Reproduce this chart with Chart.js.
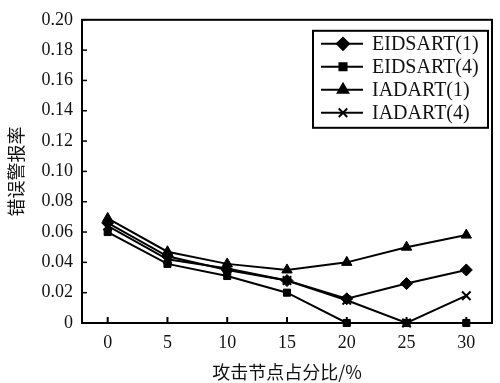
<!DOCTYPE html>
<html>
<head>
<meta charset="utf-8">
<script src="https://cdn.jsdelivr.net/npm/chart.js@4"></script>
<style>
  html, body { margin: 0; padding: 0; background: #fff; }
</style>
</head>
<body>
<canvas id="myChart" width="500" height="383"></canvas>
<script>
// values
const xValues = [0, 5, 10, 15, 20, 25, 30];
const eidsart1 = [0.066, 0.044, 0.035, 0.028, 0.016, 0.026, 0.035];
const eidsart4 = [0.060, 0.039, 0.031, 0.020, 0, 0, 0];
const iadart1 = [0.069, 0.047, 0.039, 0.035, 0.040, 0.050, 0.058];
const iadart4 = [0.064, 0.042, 0.036, 0.028, 0.015, 0, 0.018];
const seriesNames = ['EIDSART(1)', 'EIDSART(4)', 'IADART(1)', 'IADART(4)'];
const markers = ['rectRot', 'rect', 'triangle', 'crossRot'];
const markerSizes = [6, 5, 6, 6];
const yTicks = [0, 0.02, 0.04, 0.06, 0.08, 0.10, 0.12, 0.14, 0.16, 0.18, 0.20];
const xTitle = '攻击节点占分比/%';
const yTitle = '错误警报率';

const serif = "'Liberation Serif', 'Times New Roman', serif";
const cjk = "'Noto Sans CJK SC', sans-serif";

const allSeries = [eidsart1, eidsart4, iadart1, iadart4];
const datasets = allSeries.map((vals, i) => ({
  label: seriesNames[i],
  data: vals.map((v, j) => ({ x: xValues[j], y: v })),
  borderColor: '#000',
  backgroundColor: '#000',
  borderWidth: 2,
  pointStyle: markers[i],
  pointRadius: markerSizes[i],
  pointBorderWidth: markers[i] === 'crossRot' ? 2 : 1,
  pointBackgroundColor: '#000',
  pointBorderColor: '#000',
  tension: 0,
  clip: false,
}));

// frame, inner tick marks and boxed legend
const framePlugin = {
  id: 'frame',
  afterDraw(chart) {
    const ctx = chart.ctx;
    const ca = chart.chartArea;
    const xs = chart.scales.x;
    const ys = chart.scales.y;
    ctx.save();
    ctx.strokeStyle = '#000';
    ctx.lineWidth = 2;
    ctx.strokeRect(ca.left, ca.top, ca.right - ca.left, ca.bottom - ca.top);

    ctx.lineWidth = 1.5;
    yTicks.forEach((t) => {
      const y = ys.getPixelForValue(t);
      ctx.beginPath();
      ctx.moveTo(ca.left, y);
      ctx.lineTo(ca.left + 5, y);
      ctx.stroke();
    });
    ctx.lineWidth = 2;
    xValues.forEach((t) => {
      const x = xs.getPixelForValue(t);
      ctx.beginPath();
      ctx.moveTo(x, ca.bottom);
      ctx.lineTo(x, ca.bottom - 6);
      ctx.stroke();
    });

    // legend box
    const bx = ca.right - 179, by = ca.top + 11, bw = 175, bh = 97;
    ctx.lineWidth = 2;
    ctx.strokeRect(bx, by, bw, bh);
    ctx.font = '20px ' + serif;
    ctx.textBaseline = 'middle';
    ctx.textAlign = 'left';
    chart.data.datasets.forEach((ds, i) => {
      const cy = by + 13 + i * 23;
      ctx.strokeStyle = '#000';
      ctx.lineWidth = 2;
      ctx.beginPath();
      ctx.moveTo(bx + 8, cy);
      ctx.lineTo(bx + 50, cy);
      ctx.stroke();
      ctx.fillStyle = '#000';
      Chart.helpers.drawPoint(ctx, {
        pointStyle: ds.pointStyle,
        radius: ds.pointRadius,
        borderWidth: ds.pointBorderWidth,
      }, bx + 30, cy);
      if (ds.pointStyle !== 'crossRot') ctx.fill();
      ctx.fillStyle = '#111';
      ctx.fillText(ds.label, bx + 59, cy + 1);
    });
    ctx.restore();
  }
};

new Chart(document.getElementById('myChart'), {
  type: 'line',
  data: { datasets },
  options: {
    responsive: false,
    animation: false,
    layout: { padding: { left: 0, top: 15, right: 3, bottom: 0 } },
    plugins: {
      legend: { display: false },
      tooltip: { enabled: false },
    },
    scales: {
      x: {
        type: 'linear',
        min: -2.15,
        max: 32.15,
        afterBuildTicks: (scale) => { scale.ticks = xValues.map((v) => ({ value: v })); },
        afterFit: (scale) => { scale.height = 60; },
        grid: { display: false, drawTicks: false },
        border: { display: false },
        ticks: {
          padding: 9,
          color: '#111',
          font: { family: serif, size: 18 },
          maxRotation: 0,
        },
        title: {
          display: true,
          text: xTitle,
          color: '#111',
          font: { family: cjk, size: 18 },
          padding: { top: 0, bottom: 0 },
        },
      },
      y: {
        min: 0,
        max: 0.2,
        afterBuildTicks: (scale) => { scale.ticks = yTicks.map((v) => ({ value: v })); },
        afterFit: (scale) => { scale.width = 82; },
        grid: { display: false, drawTicks: false },
        border: { display: false },
        ticks: {
          padding: 9,
          color: '#111',
          font: { family: serif, size: 18 },
          callback: (v) => (v === 0 ? '0' : v.toFixed(2)),
        },
        title: {
          display: true,
          text: yTitle,
          color: '#111',
          font: { family: cjk, size: 18 },
          padding: { top: 5, bottom: 0 },
        },
      },
    },
  },
  plugins: [framePlugin],
});
</script>
</body>
</html>
